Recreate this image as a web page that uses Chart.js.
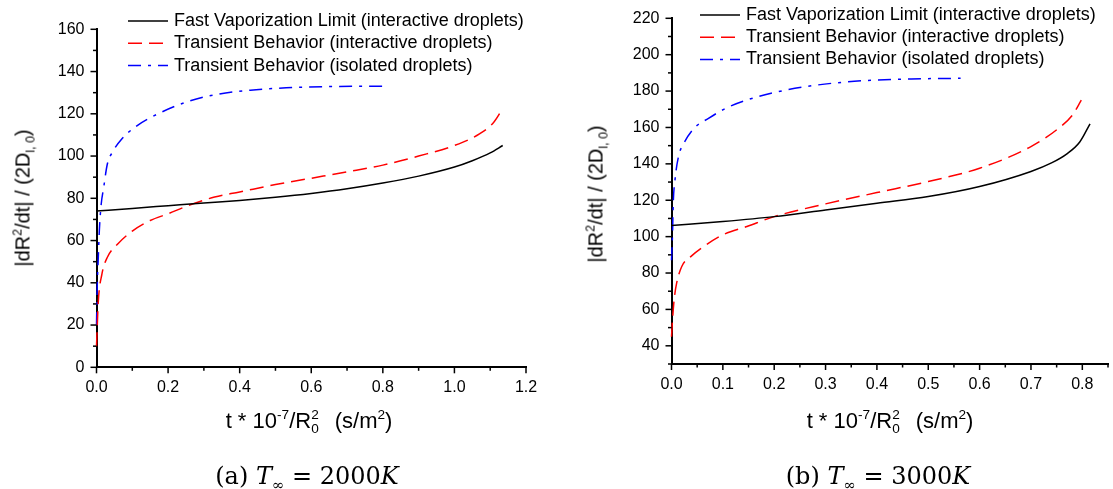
<!DOCTYPE html>
<html>
<head>
<meta charset="utf-8">
<script src="https://cdn.jsdelivr.net/npm/chart.js@4.4.0/dist/chart.umd.min.js"></script>
<style>
  body { margin: 0; background: #fff; }
  #wrap { position: relative; width: 1113px; height: 489px; overflow: hidden; font-family: "Liberation Sans", Arial, sans-serif; color: #000; }
  canvas { position: absolute; top: 0; }
  #chartA { left: 0; }
  #chartB { left: 556px; }
  .ytitle, .xtitle, .caption { position: absolute; white-space: nowrap; }
  .ytitle { font-size: 20px; transform: translate(-50%, -50%) rotate(-90deg); }
  .xtitle { font-size: 22px; transform: translate(-50%, -50%); }
  .caption { font-family: "DejaVu Serif", serif; font-size: 24px; transform: translate(-50%, -50%); }
  sup, sub { font-size: 62%; line-height: 0; }
  .stack { display: inline-flex; flex-direction: column; vertical-align: middle; font-size: 62%; line-height: 1.05; }
  .gap { display: inline-block; width: 16px; }
</style>
</head>
<body>
<div id="wrap">
  <canvas id="chartA" width="556" height="489"></canvas>
  <canvas id="chartB" width="557" height="489"></canvas>

  <div class="ytitle" style="left:23px; top:198px;">|dR<sup>2</sup>/dt| / (2D<sub>l, 0</sub>)</div>
  <div class="ytitle" style="left:596px; top:194px;">|dR<sup>2</sup>/dt| / (2D<sub>l, 0</sub>)</div>

  <div class="xtitle" style="left:309px; top:422px;">t * 10<sup>-7</sup>/R<span class="stack"><span>2</span><span>0</span></span><span class="gap"></span>(s/m<sup>2</sup>)</div>
  <div class="xtitle" style="left:890px; top:422px;">t * 10<sup>-7</sup>/R<span class="stack"><span>2</span><span>0</span></span><span class="gap"></span>(s/m<sup>2</sup>)</div>

  <div class="caption" style="left:307px; top:476px;">(a) <i>T</i><sub>∞</sub> = 2000<i>K</i></div>
  <div class="caption" style="left:878px; top:476px;">(b) <i>T</i><sub>∞</sub> = 3000<i>K</i></div>
</div>

<script>
// series names (same in both panels)
const seriesLabels = [
    "Fast Vaporization Limit (interactive droplets)",
    "Transient Behavior (interactive droplets)",
    "Transient Behavior (isolated droplets)"
];

// (a) T = 2000K
const aFastT = [0, 0.1, 0.2, 0.3, 0.4, 0.5, 0.6, 0.7, 0.8, 0.9, 1.0, 1.05, 1.1, 1.135];
const aFastRate = [74, 75.2, 76.5, 77.8, 79, 80.5, 82.3, 84.5, 87.2, 90.5, 94.8, 97.8, 101.5, 105];

const aInterT = [0, 0.005, 0.015, 0.03, 0.06, 0.1, 0.15, 0.2, 0.26, 0.33, 0.4, 0.5, 0.6, 0.7, 0.8, 0.9, 1.0, 1.07, 1.11, 1.135];
const aInterRate = [10, 31, 44, 52, 58.5, 64.5, 69.5, 72.7, 76.8, 80.6, 83, 86.5, 89.5, 92.5, 95.7, 100, 105, 110.5, 116, 122.5];

const aIsoT = [0, 0.002, 0.005, 0.008, 0.013, 0.02, 0.03, 0.045, 0.07, 0.11, 0.16, 0.25, 0.33, 0.43, 0.53, 0.63, 0.73, 0.8];
const aIsoRate = [20, 38, 52, 65, 77, 85, 96, 102, 108, 114, 119, 125.5, 129, 131.2, 132.3, 132.8, 133, 133];

// (b) T = 3000K
const bFastT = [0, 0.1, 0.2, 0.3, 0.4, 0.5, 0.6, 0.7, 0.74, 0.77, 0.795, 0.815];
const bFastRate = [106.1, 108.3, 111, 114.7, 118.4, 122, 127.5, 135.8, 140.5, 145.5, 152, 162];

const bInterT = [0, 0.002, 0.005, 0.01, 0.02, 0.0375, 0.058, 0.1, 0.147, 0.2, 0.3, 0.4, 0.5, 0.6, 0.7, 0.754, 0.781, 0.798];
const bInterRate = [45, 54.3, 65, 74.4, 83.6, 89, 93.6, 101, 105.6, 111, 118, 124.2, 130.3, 137.6, 149.5, 159.6, 166.9, 175];

const bIsoT = [0, 0.002, 0.0034, 0.0068, 0.0136, 0.024, 0.044, 0.072, 0.106, 0.147, 0.194, 0.263, 0.331, 0.4, 0.467, 0.563];
const bIsoRate = [87, 101.9, 118.4, 131.2, 144, 151.3, 159.6, 165, 170.6, 175.1, 178.8, 182.5, 184.8, 186.1, 186.7, 187];

// axis ranges: [min, max, minor step, labelled step]
const aXAxis = [0, 1.2, 0.1, 0.2];
const aYAxis = [0, 160, 10, 20];
const bXAxis = [0, 0.85, 0.05, 0.1];
const bYAxis = [30, 220, 10, 20];

Chart.defaults.font.family = "'Liberation Sans', Arial, sans-serif";
Chart.defaults.color = "#000";

const lineStyles = [
    { borderColor: "#000000", borderDash: [] },
    { borderColor: "#ff0000", borderDash: [14, 7] },
    { borderColor: "#0000ff", borderDash: [13, 7, 3, 7] }
];

function toPoints(xs, ys) {
    return xs.map((x, i) => ({ x: x, y: ys[i] }));
}

function isMajor(v, step) {
    const r = v / step;
    return Math.abs(r - Math.round(r)) < 1e-6;
}

// tick marks: long on labelled ticks, short on the others
const tickMarks = {
    id: "tickMarks",
    afterDraw(chart) {
        const ctx = chart.ctx;
        const xs = chart.scales.x, ys = chart.scales.y;
        ctx.save();
        ctx.strokeStyle = "#000";
        ctx.lineWidth = 1.5;
        xs.ticks.forEach(t => {
            const px = xs.getPixelForValue(t.value);
            const len = t.label ? 6 : 3.5;
            ctx.beginPath();
            ctx.moveTo(px, xs.top);
            ctx.lineTo(px, xs.top + len);
            ctx.stroke();
        });
        ys.ticks.forEach(t => {
            const py = ys.getPixelForValue(t.value);
            const len = t.label ? 6 : 3.5;
            ctx.beginPath();
            ctx.moveTo(ys.right, py);
            ctx.lineTo(ys.right - len, py);
            ctx.stroke();
        });
        ctx.restore();
    }
};

// legend drawn over the plot, line sample + text
const lineKey = {
    id: "lineKey",
    afterDraw(chart, args, opts) {
        const ctx = chart.ctx;
        chart.data.datasets.forEach((ds, i) => {
            const y = opts.y + i * opts.gap;
            ctx.save();
            ctx.strokeStyle = ds.borderColor;
            ctx.lineWidth = ds.borderWidth;
            ctx.setLineDash(ds.borderDash);
            ctx.beginPath();
            ctx.moveTo(opts.x, y);
            ctx.lineTo(opts.x + opts.len, y);
            ctx.stroke();
            ctx.restore();
            ctx.fillStyle = "#000";
            ctx.font = "18px 'Liberation Sans', Arial, sans-serif";
            ctx.textBaseline = "middle";
            ctx.fillText(ds.label, opts.x + opts.len + 6, y);
        });
    }
};

function axis(range, decimals, horizontal, size, pad) {
    return {
        type: "linear",
        min: range[0],
        max: range[1],
        ticks: {
            stepSize: range[2],
            autoSkip: false,
            maxRotation: 0,
            padding: pad,
            font: { size: 16 },
            callback: v => isMajor(v, range[3]) ? v.toFixed(decimals) : ""
        },
        grid: { display: false, drawTicks: true, tickLength: 6 },
        border: { display: true, color: "#000", width: 2 },
        afterFit: s => {
            if (horizontal) s.height = size; else s.width = size;
        }
    };
}

function makeChart(id, series, xRange, yRange, xDec, yWidth, padding, key) {
    return new Chart(document.getElementById(id).getContext("2d"), {
        type: "line",
        data: {
            datasets: series.map((pts, i) => ({
                label: seriesLabels[i],
                data: pts,
                borderColor: lineStyles[i].borderColor,
                borderDash: lineStyles[i].borderDash,
                borderWidth: 1.5,
                pointRadius: 0,
                fill: false,
                cubicInterpolationMode: "monotone",
                clip: 4
            }))
        },
        options: {
            responsive: false,
            animation: false,
            layout: { padding: padding },
            scales: {
                x: axis(xRange, xDec, true, 40, 5),
                y: axis(yRange, 0, false, yWidth, 6)
            },
            plugins: {
                legend: { display: false },
                tooltip: { enabled: false },
                lineKey: key
            }
        },
        plugins: [tickMarks, lineKey]
    });
}

makeChart("chartA",
    [toPoints(aFastT, aFastRate), toPoints(aInterT, aInterRate), toPoints(aIsoT, aIsoRate)],
    aXAxis, aYAxis, 1, 96.5,
    { left: 0, right: 30, top: 29.3, bottom: 81.7 },
    { x: 128, y: 21, gap: 22.3, len: 40 });

makeChart("chartB",
    [toPoints(bFastT, bFastRate), toPoints(bInterT, bInterRate), toPoints(bIsoT, bIsoRate)],
    bXAxis, bYAxis, 1, 115.5,
    { left: 0, right: 1.5, top: 18.3, bottom: 85 },
    { x: 144, y: 15, gap: 22.2, len: 40 });
</script>
</body>
</html>
